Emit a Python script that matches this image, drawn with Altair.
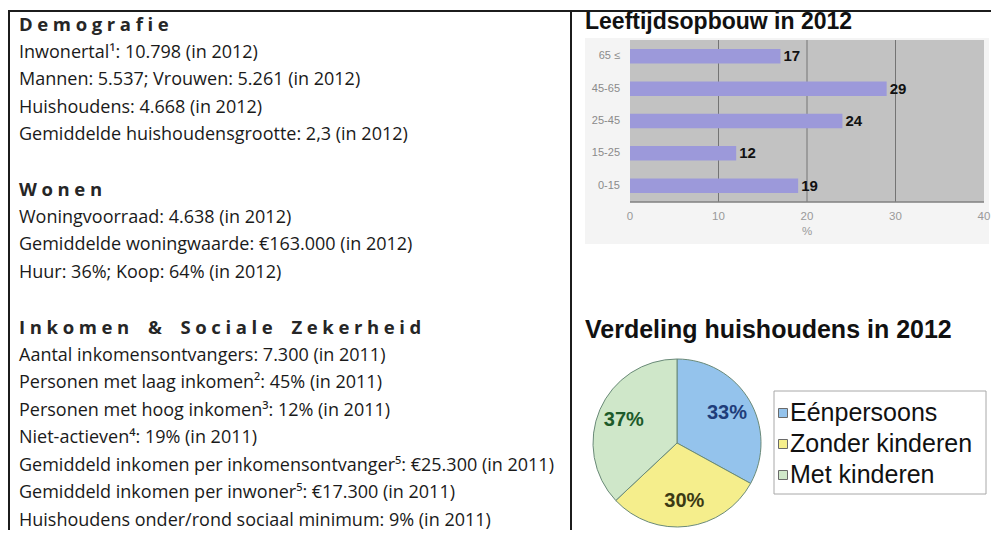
import altair as alt
import pandas as pd

# ---------------- data ----------------
section_titles = ["Demografie", "Wonen", "Inkomen & Sociale Zekerheid"]
demografie_lines = [
    "Inwonertal¹: 10.798 (in 2012)",
    "Mannen: 5.537; Vrouwen: 5.261 (in 2012)",
    "Huishoudens: 4.668 (in 2012)",
    "Gemiddelde huishoudensgrootte: 2,3 (in 2012)",
]
wonen_lines = [
    "Woningvoorraad: 4.638 (in 2012)",
    "Gemiddelde woningwaarde: €163.000 (in 2012)",
    "Huur: 36%; Koop: 64% (in 2012)",
]
inkomen_lines = [
    "Aantal inkomensontvangers: 7.300 (in 2011)",
    "Personen met laag inkomen²: 45% (in 2011)",
    "Personen met hoog inkomen³: 12% (in 2011)",
    "Niet-actieven⁴: 19% (in 2011)",
    "Gemiddeld inkomen per inkomensontvanger⁵: €25.300 (in 2011)",
    "Gemiddeld inkomen per inwoner⁵: €17.300 (in 2011)",
    "Huishoudens onder/rond sociaal minimum: 9% (in 2011)",
]

bar_title = "Leeftijdsopbouw in 2012"
age_groups = ["65 ≤", "45-65", "25-45", "15-25", "0-15"]
age_shares = [17, 29, 24, 12, 19]
pct_ticks = [0, 10, 20, 30, 40]
x_axis_title = "%"

pie_title = "Verdeling huishoudens in 2012"
household_types = ["Eénpersoons", "Zonder kinderen", "Met kinderen"]
household_shares = [33, 30, 37]

# ---------------- tables ----------------
def spaced(title):
    return "\u2005 \u2005\u2005".join("\u2005".join(list(w)) for w in title.split(" "))

rows = []
r = 0
for title, lines in zip(section_titles, [demografie_lines, wonen_lines, inkomen_lines]):
    rows.append({"row": r, "txt": spaced(title), "kind": "head"})
    for i, ln in enumerate(lines):
        rows.append({"row": r + 1 + i, "txt": ln, "kind": "body"})
    r += len(lines) + 2
text_df = pd.DataFrame(rows)
n_rows = int(text_df["row"].max())

bar_df = pd.DataFrame({"age": age_groups, "pct": age_shares})
tick_df = pd.DataFrame({"v": pct_ticks})
pie_df = pd.DataFrame({"type": household_types, "pct": household_shares,
                       "idx": list(range(len(household_types)))})

one = alt.Data(values=[{}])

W, H = 983, 522
INK = "#1c1c1c"

# ---------------- borders ----------------
top_border = alt.Chart(one).mark_rule(color=INK, strokeWidth=2).encode(
    x=alt.value(0), x2=alt.value(W), y=alt.value(3))
left_border = alt.Chart(one).mark_rule(color=INK, strokeWidth=2).encode(
    x=alt.value(1), y=alt.value(3), y2=alt.value(H))
divider = alt.Chart(one).mark_rule(color=INK, strokeWidth=2).encode(
    x=alt.value(563), y=alt.value(3), y2=alt.value(H))

# ---------------- left text ----------------
row_scale = alt.Scale(domain=[0, n_rows], range=[17, 513])
heads = alt.Chart(text_df).transform_filter(alt.datum.kind == "head").mark_text(
    align="left", baseline="middle", font="Open Sans", fontSize=18.5,
    fontWeight="bold", color="#262626").encode(
    x=alt.value(11), y=alt.Y("row:Q", scale=row_scale, axis=None), text="txt:N")
body = alt.Chart(text_df).transform_filter(alt.datum.kind == "body").mark_text(
    align="left", baseline="middle", font="Open Sans", fontSize=18,
    color="#1a1a1a").encode(
    x=alt.value(11), y=alt.Y("row:Q", scale=row_scale, axis=None), text="txt:N")

# ---------------- bar chart ----------------
xs = alt.Scale(domain=[pct_ticks[0], pct_ticks[-1]], range=[622, 976])
ys = alt.Scale(domain=age_groups, range=[32, 194], paddingInner=0.55, paddingOuter=0.28)

outer_bg = alt.Chart(one).mark_rect(color="#f4f4f4").encode(
    x=alt.value(577), x2=alt.value(981), y=alt.value(30), y2=alt.value(236))
plot_bg = alt.Chart(one).mark_rect(color="#c2c2c2").encode(
    x=alt.datum(pct_ticks[0], scale=xs, axis=None), x2=alt.datum(pct_ticks[-1]),
    y=alt.value(32), y2=alt.value(194))
grid = alt.Chart(tick_df).transform_filter(
    (alt.datum.v > pct_ticks[0]) & (alt.datum.v < pct_ticks[-1])).mark_rule(
    color="#747474", strokeWidth=1).encode(
    x=alt.X("v:Q", scale=xs, axis=None), y=alt.value(32), y2=alt.value(194))
axis_line = alt.Chart(one).mark_rule(color="#808080", strokeWidth=1.5).encode(
    x=alt.datum(pct_ticks[0], scale=xs, axis=None), x2=alt.datum(pct_ticks[-1]),
    y=alt.value(194))
bars = alt.Chart(bar_df).mark_bar(color="#9c99da").encode(
    x=alt.X("pct:Q", scale=xs, axis=None),
    y=alt.Y("age:N", scale=ys, sort=age_groups, axis=None))
bar_labels = alt.Chart(bar_df).mark_text(
    align="left", baseline="middle", dx=3, font="Liberation Sans", fontSize=15,
    fontWeight="bold", color="#111111").encode(
    x=alt.X("pct:Q", scale=xs, axis=None),
    y=alt.Y("age:N", scale=ys, sort=age_groups, axis=None), text="pct:Q")
y_labels = alt.Chart(bar_df).mark_text(
    align="right", baseline="middle", font="Liberation Sans", fontSize=11,
    color="#8a8a8a").encode(
    x=alt.value(612), y=alt.Y("age:N", scale=ys, sort=age_groups, axis=None),
    text="age:N")
x_labels = alt.Chart(tick_df).mark_text(
    baseline="middle", font="Liberation Sans", fontSize=11.5, color="#999999").encode(
    x=alt.X("v:Q", scale=xs, axis=None), y=alt.value(209), text="v:Q")
x_title = alt.Chart(one).mark_text(
    baseline="middle", font="Liberation Sans", fontSize=11.5, color="#999999",
    text=x_axis_title).encode(x=alt.datum(20, scale=xs, axis=None), y=alt.value(224))
bar_title_t = alt.Chart(one).mark_text(
    align="left", baseline="middle", font="Liberation Sans", fontSize=23,
    fontWeight="bold", color="#111111", text=bar_title).encode(
    x=alt.value(577), y=alt.value(14))

bar_group = alt.layer(outer_bg, plot_bg, grid, axis_line, bars, bar_labels,
                      y_labels, x_labels, x_title, bar_title_t)

# ---------------- pie chart ----------------
CX, CY = 669, 435
fill_scale = alt.Scale(domain=household_types, range=["#94c3ec", "#f5ee8c", "#cfe7c9"])
arcs = alt.Chart(pie_df).mark_arc(radius=84, stroke="#6a8a78", strokeWidth=1).encode(
    theta=alt.Theta("pct:Q", stack=True),
    order=alt.Order("idx:Q", sort="ascending"),
    color=alt.Color("type:N", scale=fill_scale, legend=None),
    x=alt.value(CX), y=alt.value(CY))
pie_labels = alt.Chart(pie_df).transform_calculate(
    lbl="datum.pct + '%'").mark_text(
    radius=58, font="Liberation Sans", fontSize=20, fontWeight="bold",
    baseline="middle").encode(
    theta=alt.Theta("pct:Q", stack=True),
    order=alt.Order("idx:Q", sort="ascending"),
    color=alt.Color("type:N", scale=alt.Scale(
        domain=household_types, range=["#1f3d7a", "#3b3a14", "#1d5a2a"]), legend=None),
    text="lbl:N", x=alt.value(CX), y=alt.value(CY))
pie_title_t = alt.Chart(one).mark_text(
    align="left", baseline="middle", font="Liberation Sans", fontSize=25,
    fontWeight="bold", color="#111111", text=pie_title).encode(
    x=alt.value(577), y=alt.value(322))

# legend (box, swatches, labels)
leg_pos = alt.Scale(type="point", domain=household_types, range=[405, 467], padding=0)
leg_box = alt.Chart(one).mark_rect(fill="white", stroke="#a8a8a8", strokeWidth=1).encode(
    x=alt.value(766), x2=alt.value(978), y=alt.value(383), y2=alt.value(486))
leg_sym = alt.Chart(pie_df).mark_square(size=81, stroke="#6a6a6a", strokeWidth=1,
                                        opacity=1).encode(
    x=alt.value(775), y=alt.Y("type:N", scale=leg_pos, axis=None),
    color=alt.Color("type:N", scale=fill_scale, legend=None))
leg_txt = alt.Chart(pie_df).mark_text(
    align="left", baseline="middle", font="Liberation Sans", fontSize=25,
    color="#111111").encode(
    x=alt.value(782), y=alt.Y("type:N", scale=leg_pos, axis=None), text="type:N")

pie_group = alt.layer(arcs, pie_labels, pie_title_t, leg_box, leg_sym, leg_txt
                      ).resolve_scale(color="independent")

chart = alt.layer(
    top_border, left_border, divider, heads, body, bar_group, pie_group
).resolve_scale(
    x="independent", y="independent", color="independent", theta="independent"
).properties(
    width=W, height=H, autosize=alt.AutoSizeParams(type="none"), padding=0
).configure_view(stroke=None)

chart.save("out.html", embed_options={"renderer": "svg", "actions": False})
